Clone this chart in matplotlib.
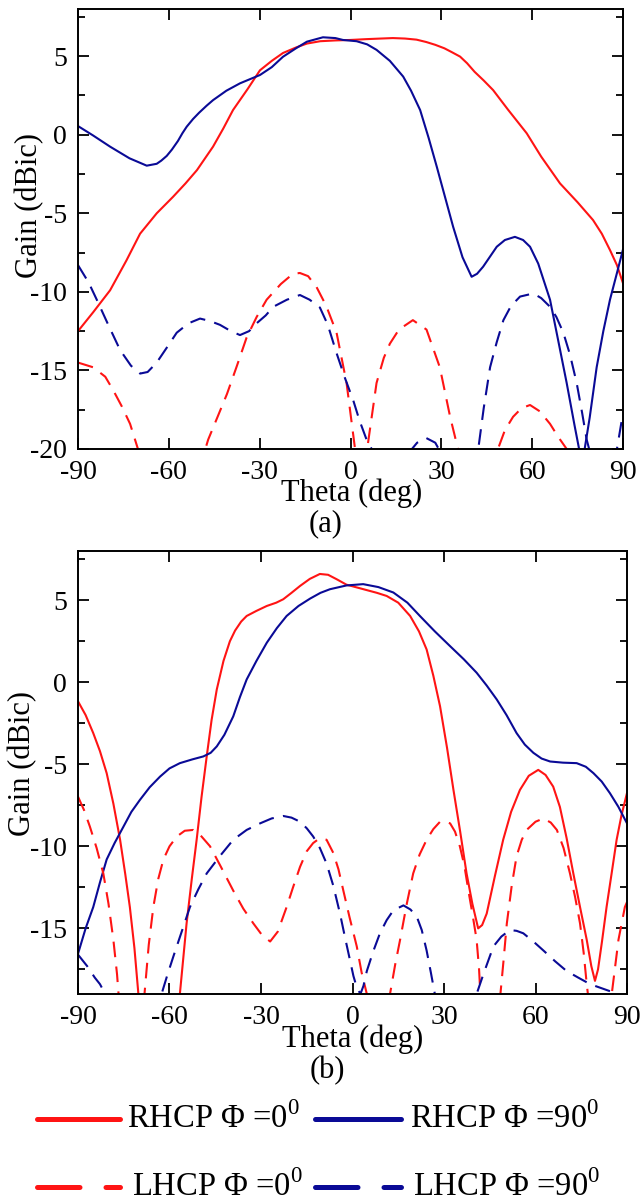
import matplotlib
matplotlib.use("Agg")
import matplotlib.pyplot as plt
from matplotlib.lines import Line2D
from matplotlib.ticker import MultipleLocator

plt.rcParams['font.family'] = ['Liberation Serif', 'DejaVu Serif']

RED = '#ff1414'
BLUE = '#0a0a96'

# ---------------- Panel (a) data ----------------
a_rhcp0_theta = [-90, -85, -79.4, -74, -69.5, -64, -58.6, -54.5, -50.7, -45.4, -42, -38.8, -34, -29.9,
                 -26, -22.3, -18, -14.4, -10, -5, 0, 5, 10, 14, 18, 21.8, 25, 28, 31, 33.5, 36.2,
                 38.5, 41, 44, 47.1, 52, 58.2, 63, 69.2, 75, 80.1, 83, 85.7, 88, 90]
a_rhcp0_gain = [-12.5, -11.3, -9.9, -8.0, -6.3, -5.0, -3.95, -3.1, -2.25, -0.76, 0.4, 1.57, 2.9, 4.1,
                4.7, 5.2, 5.55, 5.8, 5.95, 6.0, 6.03, 6.08, 6.12, 6.15, 6.12, 6.05, 5.9, 5.72, 5.5,
                5.25, 4.97, 4.55, 4.0, 3.45, 2.84, 1.6, 0.09, -1.4, -3.1, -4.3, -5.43, -6.3, -7.34,
                -8.3, -9.45]

a_rhcp90_theta = [-90, -85, -79.4, -73, -67.3, -64, -62.5, -60.7, -59, -57, -55.5, -54.1, -52, -50,
                  -47.5, -45.4, -41, -36.5, -29.9, -26, -22.3, -18, -14.4, -9.1, -5, -2.5, 2, 5.5,
                  8.6, 13, 17.4, 20, 23, 25.8, 28.5, 31.2, 33.9, 37, 40, 41.8, 43.8, 48.3, 51,
                  54.3, 57, 59.3, 62, 65.9, 68.5, 71.4, 74, 76.5, 79, 81.3, 83.5, 85.7, 88, 90]
a_rhcp90_gain = [0.55, -0.05, -0.76, -1.5, -1.97, -1.85, -1.65, -1.35, -0.95, -0.4, 0.1, 0.51, 1.0,
                 1.4, 1.85, 2.2, 2.8, 3.27, 3.8, 4.3, 4.96, 5.5, 5.92, 6.2, 6.15, 6.03, 5.95, 5.75,
                 5.4, 4.7, 3.7, 2.8, 1.57, -0.2, -2.04, -3.95, -5.86, -7.8, -9.04, -8.85, -8.4,
                 -7.13, -6.7, -6.5, -6.7, -7.13, -8.2, -10.5, -13.0, -15.8, -18.5, -21.0, -18.0,
                 -14.8, -12.5, -10.5, -8.8, -7.3]

a_lhcp0_theta = [-90, -85, -81, -78.4, -75.5, -72.8, -70.2, -67, -58, -50, -47, -44, -40.8, -37.5,
                 -34.3, -31, -27.7, -23, -19, -16.7, -14, -11.2, -8, -4.6, -1.3, 1.5, 3, 5.8, 8.6,
                 11, 13, 16, 20.6, 25.1, 29.5, 32.9, 35.5, 38, 45, 48.7, 51, 53.7, 56.5, 59.3,
                 62.5, 65.9, 68.5, 71.4, 73.5, 80, 90]
a_lhcp0_gain = [-14.5, -14.8, -15.4, -16.25, -17.3, -18.4, -20.0, -23.0, -28.0, -21.3, -19.4, -18.0,
                -16.5, -14.7, -12.9, -11.6, -10.5, -9.5, -8.85, -8.8, -9.0, -9.7, -10.9, -12.6,
                -15.8, -20.0, -24.0, -19.6, -15.8, -14.2, -13.3, -12.4, -11.8, -12.4, -14.8,
                -17.95, -20.0, -24.0, -26.0, -20.0, -18.8, -17.95, -17.4, -17.2, -17.6, -18.4,
                -19.2, -20.0, -22.0, -26.0, -25.0]

a_lhcp90_theta = [-90, -86.5, -83.8, -80, -76.1, -72.5, -69.5, -67, -64, -60.5, -57.4, -53.5, -49.7,
                  -46.5, -43.1, -39.5, -36.5, -33.5, -31, -28, -25.5, -21, -16.7, -13.5, -10.1,
                  -7.5, -4.6, -1.8, 0.9, 3, 5.3, 7, 9, 15, 19, 22, 25, 28, 30, 36, 40, 42.2, 44,
                  46.1, 48.3, 50.5, 53, 56, 60.4, 63, 65.9, 68, 70.3, 72.5, 74.7, 76.5, 78, 79.5,
                  83, 88, 90]
a_lhcp90_gain = [-8.3, -9.4, -10.5, -12.1, -13.7, -14.7, -15.2, -15.1, -14.5, -13.5, -12.6, -12.0,
                 -11.7, -11.85, -12.1, -12.5, -12.75, -12.5, -12.0, -11.5, -10.95, -10.5, -10.2,
                 -10.5, -11.0, -12.1, -13.9, -15.5, -16.9, -18.2, -19.4, -20.0, -21.5, -22.0,
                 -20.3, -19.6, -19.3, -19.6, -20.3, -23.0, -22.0, -20.0, -17.4, -14.8, -13.2,
                 -11.8, -10.9, -10.3, -10.1, -10.4, -10.95, -11.6, -12.6, -14.0, -15.8, -17.7,
                 -19.4, -20.5, -23.0, -20.0, -17.7]

# ---------------- Panel (b) data ----------------
b_rhcp0_theta = [-90, -87.5, -85, -82.8, -80.6, -78.4, -76.2, -74.5, -73, -71.5, -70.2, -69, -62,
                 -57.5, -56.6, -54.4, -52.7, -51.1, -49.5, -47.8, -46.2, -44.5, -42.3, -40.2, -38.5,
                 -36.5, -34.7, -31.5, -28.1, -25, -22.7, -20, -17.2, -14, -10.7, -8, -5.2, -2, 1.4,
                 5, 8, 11.2, 15, 18.9, 21.8, 24.3, 26.5, 28.7, 31, 33.1, 35.3, 37.4, 39.3, 41.2,
                 42.5, 44, 46.7, 49.4, 52, 54.9, 57.8, 60.9, 63.3, 65.8, 68, 70.2, 72.4, 74.6, 76.8,
                 78.3, 79.5, 80.5, 81.8, 83.3, 85, 86.6, 88.2, 90]
b_rhcp0_gain = [-1.16, -2.0, -3.1, -4.2, -5.54, -7.4, -9.6, -11.7, -13.7, -16.2, -19.0, -23.0, -30.0,
                -21.0, -19.0, -14.7, -12.0, -9.6, -7.0, -4.52, -2.3, -0.44, 1.3, 2.5, 3.15, 3.7,
                4.04, 4.35, 4.65, 4.85, 5.06, 5.45, 5.87, 6.3, 6.6, 6.55, 6.28, 5.95, 5.78, 5.6,
                5.45, 5.26, 4.85, 4.04, 3.1, 2.0, 0.4, -1.46, -4.0, -6.56, -9.1, -11.65, -13.5,
                -15.0, -14.8, -14.1, -11.8, -9.6, -7.9, -6.56, -5.7, -5.34, -5.65, -6.36, -7.6,
                -9.5, -11.65, -13.7, -15.7, -17.3, -18.2, -17.5, -15.8, -13.7, -11.6, -9.6, -8.1,
                -6.75]

b_rhcp90_theta = [-90, -87.5, -85, -82.8, -80.6, -78, -75.1, -72.5, -69.7, -66.5, -63.1, -60, -56.6,
                  -52.5, -48.9, -46.5, -44.5, -42, -39.1, -36.9, -34.7, -31.5, -28.1, -24.8, -21.6,
                  -17.7, -13.9, -10.5, -7.4, -2, 3.5, 8.5, 13.4, 18, 22.1, 27, 32, 36.5, 40.7, 44,
                  47.3, 50.5, 53.8, 56.5, 59.3, 62, 64.8, 69, 73.5, 76.5, 79, 81.7, 84.4, 87.2, 90]
b_rhcp90_gain = [-16.55, -15.0, -13.7, -12.2, -10.8, -9.8, -8.8, -7.9, -7.17, -6.4, -5.75, -5.25,
                 -4.93, -4.7, -4.52, -4.3, -3.91, -3.2, -2.08, -0.9, 0.17, 1.3, 2.41, 3.3, 4.04,
                 4.65, 5.1, 5.45, 5.67, 5.9, 5.98, 5.8, 5.47, 4.85, 4.04, 3.1, 2.2, 1.4, 0.58,
                 -0.2, -1.05, -2.0, -3.1, -3.8, -4.3, -4.65, -4.83, -4.9, -4.93, -5.15, -5.54,
                 -6.05, -6.76, -7.6, -8.6]

b_lhcp0_theta = [-90, -88, -86.1, -83.9, -81.7, -80, -78.4, -77.2, -76.5, -75, -71, -69, -68.2, -66.8,
                 -65.3, -63.7, -62, -60, -57.6, -55, -52.2, -49.5, -46.7, -43, -39.1, -35.8, -32.5,
                 -29.7, -27, -24.5, -21.6, -19.5, -17.2, -15, -12.9, -10.7, -8.5, -6.3, -4.6, -3,
                 -1, 1.4, 3, 4.7, 6, 9, 11, 12.3, 14, 15.6, 17.8, 19.9, 22, 24.3, 26.5, 28.7, 30.5,
                 32, 33.6, 35.2, 36.7, 38, 39.4, 40.7, 41.5, 42, 43, 46, 48.4, 49.5, 50.6, 52.2,
                 53.8, 55.5, 57.1, 60, 62.6, 65, 67, 69.2, 71.3, 73, 74.6, 75.8, 76.8, 77.5, 80,
                 84, 85, 87.2, 89.3, 90]
b_lhcp0_gain = [-6.97, -7.8, -8.8, -10.1, -11.65, -13.5, -15.7, -17.8, -19.5, -23.0, -26.0, -21.0,
                -19.0, -16.0, -13.7, -12.0, -10.8, -10.0, -9.4, -9.05, -9.0, -9.4, -10.0, -11.3,
                -12.7, -13.8, -14.7, -15.4, -15.8, -15.2, -13.7, -12.5, -11.25, -10.3, -9.8, -9.5,
                -9.6, -10.4, -11.4, -12.7, -14.3, -16.1, -17.7, -19.0, -22.0, -25.0, -21.0, -19.0,
                -17.2, -15.7, -13.5, -11.65, -10.5, -9.6, -8.95, -8.5, -8.5, -8.6, -9.1, -10.0,
                -11.2, -12.7, -14.2, -15.7, -17.5, -19.3, -24.0, -26.0, -19.2, -17.0, -14.7,
                -12.4, -10.6, -9.6, -9.0, -8.5, -8.3, -8.55, -9.0, -10.1, -11.65, -13.1, -14.7,
                -16.5, -18.4, -19.5, -24.0, -22.0, -19.0, -15.7, -13.7, -13.4]

b_lhcp90_theta = [-90, -87, -84.5, -82.8, -80.5, -78, -70, -64, -62.6, -60.8, -58.8, -56, -53.3,
                  -50.5, -47.8, -43.5, -39.1, -34.7, -30.3, -26.5, -22.7, -20, -17.2, -15, -12.9,
                  -10.7, -8.5, -6.3, -4.1, -2.4, -0.8, 0.3, 1.4, 2.6, 3.6, 4.7, 6.8, 9, 11.2, 13.4,
                  16.7, 19, 21.1, 22.7, 24.3, 25.7, 27, 28.5, 35, 39.5, 40.7, 42.9, 46.2, 48.8,
                  51.6, 53.8, 56, 59.3, 62.6, 66.4, 70.2, 74, 77.9, 81.7, 85.5, 88, 90]
b_lhcp90_gain = [-16.6, -17.3, -18.0, -18.4, -19.2, -20.5, -24.0, -21.0, -19.0, -17.9, -16.75, -15.2,
                 -13.7, -12.6, -11.65, -10.6, -9.6, -9.0, -8.6, -8.3, -8.15, -8.25, -8.5, -8.9,
                 -9.4, -10.1, -11.05, -12.4, -14.1, -15.6, -16.96, -17.9, -18.6, -19.0, -18.5,
                 -17.6, -16.4, -15.3, -14.5, -13.9, -13.6, -13.85, -14.3, -15.1, -16.35, -17.7,
                 -19.0, -21.0, -24.0, -20.5, -19.0, -17.8, -16.1, -15.5, -15.1, -15.15, -15.3,
                 -15.8, -16.35, -17.0, -17.6, -18.0, -18.4, -18.65, -18.9, -19.2, -19.5]

x_ticks = [-90, -60, -30, 0, 30, 60, 90]
a_yticks = [-20, -15, -10, -5, 0, 5]
b_yticks = [-15, -10, -5, 0, 5]

legend_labels = ['RHCP \u03a6 =0$^{\\mathregular{0}}$', 'RHCP \u03a6 =90$^{\\mathregular{0}}$',
                 'LHCP \u03a6 =0$^{\\mathregular{0}}$', 'LHCP \u03a6 =90$^{\\mathregular{0}}$']

W, H = 641, 1203
fig = plt.figure(figsize=(W / 100, H / 100), dpi=100)

def px_rect(l, t, r, b):
    return [l / W, 1 - b / H, (r - l) / W, (b - t) / H]

LW = 1.5
DASH = (0, (7.5, 4.5))

def style_axes(ax, ylim, yticks):
    ax.set_xlim(-90, 90)
    ax.set_ylim(*ylim)
    ax.set_xticks(x_ticks)
    ax.set_xticklabels([str(t) for t in x_ticks])
    ax.set_yticks(yticks)
    ax.set_yticklabels([str(t) for t in yticks])
    ax.yaxis.set_minor_locator(MultipleLocator(2.5))
    ax.tick_params(which='both', direction='in', top=True, right=True, width=1.3,
                   labelsize=20, pad=8)
    ax.tick_params(which='major', length=8)
    ax.tick_params(which='minor', length=5)
    for s in ax.spines.values():
        s.set_linewidth(1.4)

# Panel (a)
axa = fig.add_axes(px_rect(78, 9, 623, 449))
axa.plot(a_rhcp0_theta, a_rhcp0_gain, color=RED, lw=LW)
axa.plot(a_rhcp90_theta, a_rhcp90_gain, color=BLUE, lw=LW)
axa.plot(a_lhcp0_theta, a_lhcp0_gain, color=RED, lw=LW, linestyle=DASH)
axa.plot(a_lhcp90_theta, a_lhcp90_gain, color=BLUE, lw=LW, linestyle=DASH)
style_axes(axa, (-20, 8), a_yticks)

# Panel (b)
axb = fig.add_axes(px_rect(78, 551, 627, 994))
axb.plot(b_rhcp0_theta, b_rhcp0_gain, color=RED, lw=LW)
axb.plot(b_rhcp90_theta, b_rhcp90_gain, color=BLUE, lw=LW)
axb.plot(b_lhcp0_theta, b_lhcp0_gain, color=RED, lw=LW, linestyle=DASH)
axb.plot(b_lhcp90_theta, b_lhcp90_gain, color=BLUE, lw=LW, linestyle=DASH)
style_axes(axb, (-19, 8), b_yticks)

def ftext(x, y, s, **kw):
    fig.text(x / W, 1 - y / H, s, **kw)

# Axis labels and panel captions
ftext(352, 493, 'Theta (deg)', fontsize=22, ha='center', va='center')
ftext(326, 524, '(a)', fontsize=22, ha='center', va='center')
ftext(30, 205, 'Gain (dBic)', fontsize=22, ha='center', va='center', rotation=90)

ftext(353, 1039, 'Theta (deg)', fontsize=22, ha='center', va='center')
ftext(327, 1071, '(b)', fontsize=22, ha='center', va='center')
ftext(23, 764, 'Gain (dBic)', fontsize=22, ha='center', va='center', rotation=90)

# Legend (drawn manually, two rows)
LEG_LW = 3.6
def leg_line(x0, x1, y, color, dashed):
    ln = Line2D([x0 / W, x1 / W], [1 - y / H, 1 - y / H], transform=fig.transFigure,
                color=color, lw=LEG_LW, solid_capstyle='round', dash_capstyle='round',
                linestyle=(0, (8.5, 5.2)) if dashed else '-')
    fig.add_artist(ln)

leg_line(37, 120, 1119, RED, False)
ftext(127, 1119, legend_labels[0], fontsize=23.5, ha='left', va='center')
leg_line(315, 401, 1119, BLUE, False)
ftext(410, 1119, legend_labels[1], fontsize=23.5, ha='left', va='center')
leg_line(37, 120, 1187, RED, True)
ftext(132, 1187, legend_labels[2], fontsize=23.5, ha='left', va='center')
leg_line(315, 401, 1187, BLUE, True)
ftext(413, 1187, legend_labels[3], fontsize=23.5, ha='left', va='center')

fig.savefig('out.png', dpi=100)
